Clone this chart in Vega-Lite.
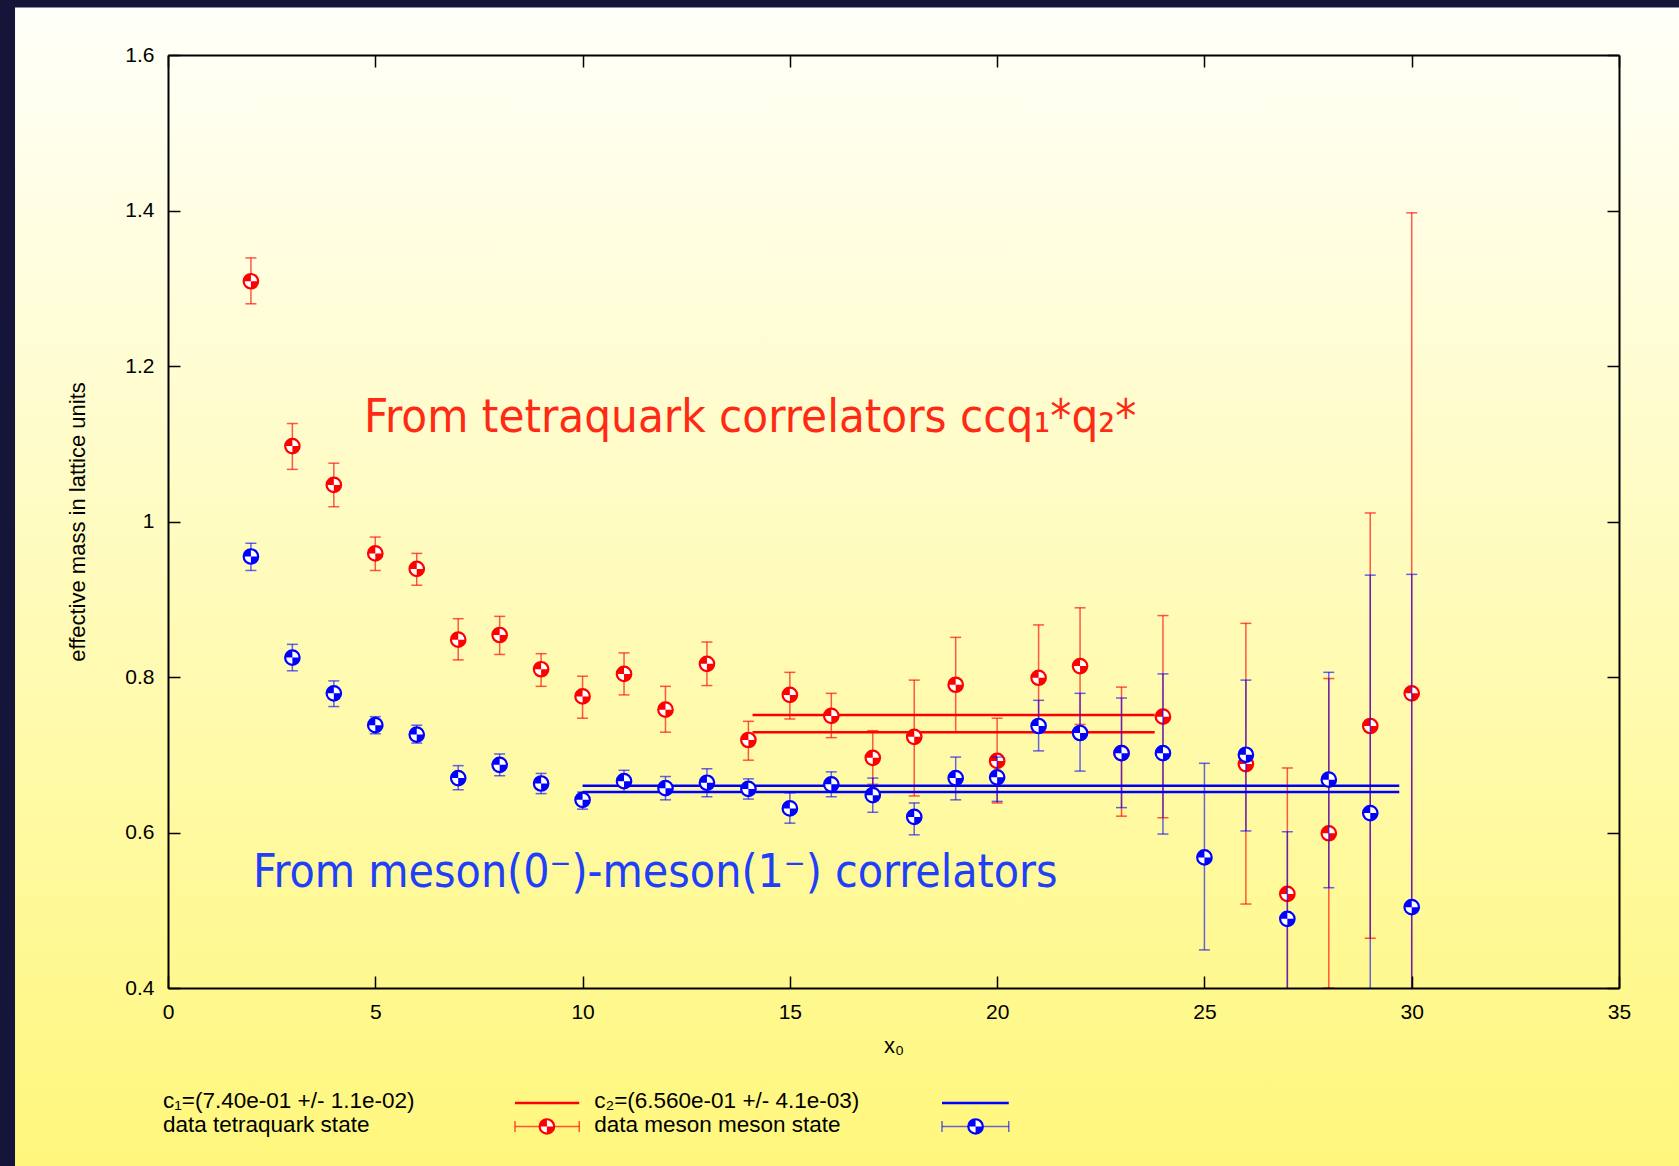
{
  "$schema": "https://vega.github.io/schema/vega-lite/v6.json",
  "width": 1451,
  "height": 933,
  "autosize": {"type": "none"},
  "padding": {"left": 168, "top": 55, "right": 60, "bottom": 178},
  "background": "#15153a",
  "config": {"view": {"stroke": null}, "font": "Liberation Sans"},
  "data": {"values": [{}]},
  "datasets": {
    "tetra": [
      {"x0": 2, "m": 1.309, "lo": 1.280, "hi": 1.339},
      {"x0": 3, "m": 1.097, "lo": 1.067, "hi": 1.126},
      {"x0": 4, "m": 1.047, "lo": 1.019, "hi": 1.075},
      {"x0": 5, "m": 0.959, "lo": 0.937, "hi": 0.980},
      {"x0": 6, "m": 0.939, "lo": 0.918, "hi": 0.959},
      {"x0": 7, "m": 0.848, "lo": 0.822, "hi": 0.875},
      {"x0": 8, "m": 0.854, "lo": 0.829, "hi": 0.878},
      {"x0": 9, "m": 0.810, "lo": 0.788, "hi": 0.830},
      {"x0": 10, "m": 0.775, "lo": 0.747, "hi": 0.801},
      {"x0": 11, "m": 0.804, "lo": 0.777, "hi": 0.831},
      {"x0": 12, "m": 0.758, "lo": 0.729, "hi": 0.788},
      {"x0": 13, "m": 0.817, "lo": 0.789, "hi": 0.845},
      {"x0": 14, "m": 0.719, "lo": 0.693, "hi": 0.743},
      {"x0": 15, "m": 0.777, "lo": 0.746, "hi": 0.806},
      {"x0": 16, "m": 0.750, "lo": 0.722, "hi": 0.779},
      {"x0": 17, "m": 0.696, "lo": 0.662, "hi": 0.731},
      {"x0": 18, "m": 0.723, "lo": 0.647, "hi": 0.796},
      {"x0": 19, "m": 0.790, "lo": 0.729, "hi": 0.851},
      {"x0": 20, "m": 0.692, "lo": 0.638, "hi": 0.747},
      {"x0": 21, "m": 0.799, "lo": 0.731, "hi": 0.867},
      {"x0": 22, "m": 0.814, "lo": 0.739, "hi": 0.889},
      {"x0": 23, "m": 0.702, "lo": 0.621, "hi": 0.787},
      {"x0": 24, "m": 0.749, "lo": 0.619, "hi": 0.879},
      {"x0": 26, "m": 0.688, "lo": 0.508, "hi": 0.869},
      {"x0": 27, "m": 0.521, "lo": 0.359, "hi": 0.683},
      {"x0": 28, "m": 0.599, "lo": 0.400, "hi": 0.798},
      {"x0": 29, "m": 0.737, "lo": 0.464, "hi": 1.011},
      {"x0": 30, "m": 0.779, "lo": 0.161, "hi": 1.397}
    ],
    "meson": [
      {"x0": 2, "m": 0.955, "lo": 0.937, "hi": 0.972},
      {"x0": 3, "m": 0.825, "lo": 0.808, "hi": 0.842},
      {"x0": 4, "m": 0.779, "lo": 0.762, "hi": 0.795},
      {"x0": 5, "m": 0.738, "lo": 0.727, "hi": 0.749},
      {"x0": 6, "m": 0.726, "lo": 0.715, "hi": 0.738},
      {"x0": 7, "m": 0.670, "lo": 0.655, "hi": 0.686},
      {"x0": 8, "m": 0.687, "lo": 0.673, "hi": 0.701},
      {"x0": 9, "m": 0.663, "lo": 0.650, "hi": 0.676},
      {"x0": 10, "m": 0.642, "lo": 0.630, "hi": 0.652},
      {"x0": 11, "m": 0.666, "lo": 0.652, "hi": 0.680},
      {"x0": 12, "m": 0.657, "lo": 0.642, "hi": 0.672},
      {"x0": 13, "m": 0.664, "lo": 0.646, "hi": 0.682},
      {"x0": 14, "m": 0.656, "lo": 0.643, "hi": 0.669},
      {"x0": 15, "m": 0.631, "lo": 0.612, "hi": 0.651},
      {"x0": 16, "m": 0.662, "lo": 0.646, "hi": 0.678},
      {"x0": 17, "m": 0.648, "lo": 0.626, "hi": 0.670},
      {"x0": 18, "m": 0.620, "lo": 0.597, "hi": 0.638},
      {"x0": 19, "m": 0.670, "lo": 0.642, "hi": 0.697},
      {"x0": 20, "m": 0.671, "lo": 0.640, "hi": 0.697},
      {"x0": 21, "m": 0.737, "lo": 0.705, "hi": 0.770},
      {"x0": 22, "m": 0.728, "lo": 0.679, "hi": 0.779},
      {"x0": 23, "m": 0.702, "lo": 0.632, "hi": 0.773},
      {"x0": 24, "m": 0.702, "lo": 0.598, "hi": 0.804},
      {"x0": 25, "m": 0.568, "lo": 0.449, "hi": 0.689},
      {"x0": 26, "m": 0.700, "lo": 0.602, "hi": 0.796},
      {"x0": 27, "m": 0.489, "lo": 0.377, "hi": 0.601},
      {"x0": 28, "m": 0.668, "lo": 0.529, "hi": 0.806},
      {"x0": 29, "m": 0.625, "lo": 0.319, "hi": 0.931},
      {"x0": 30, "m": 0.504, "lo": 0.076, "hi": 0.932}
    ],
    "fitT": [
      {"from": 14.1, "to": 23.8, "c": 0.751},
      {"from": 14.1, "to": 23.8, "c": 0.729}
    ],
    "fitM": [
      {"from": 10.0, "to": 29.7, "c": 0.660},
      {"from": 10.0, "to": 29.7, "c": 0.652}
    ]
  },
  "resolve": {"axis": {"x": "independent", "y": "independent"}},
  "layer": [
    {
      "mark": {"type": "rect", "clip": false, "strokeWidth": 0,
        "fill": {"gradient": "linear", "x1": 0, "y1": 0, "x2": 0, "y2": 1,
          "stops": [
            {"offset": 0, "color": "#fffffb"},
            {"offset": 0.035, "color": "#fffff4"},
            {"offset": 0.846, "color": "#fff77c"},
            {"offset": 1, "color": "#fff560"}
          ]}},
      "encoding": {
        "x": {"datum": -3.69, "type": "quantitative",
          "scale": {"domain": [0, 35], "nice": false, "zero": false},
          "axis": {"orient": "bottom", "values": [0, 5, 10, 15, 20, 25, 30, 35], "format": "d",
            "title": "x₀", "grid": false, "zindex": 1,
            "domainColor": "#000", "domainWidth": 2, "tickColor": "#000", "tickWidth": 1.5, "tickSize": -12,
            "labelFontSize": 21, "labelColor": "#000", "labelPadding": 25, "labelFlush": false, "labelFont": "Liberation Sans",
            "titleFontSize": 22, "titleFontWeight": "normal", "titleColor": "#000", "titlePadding": 13, "titleFont": "Liberation Sans"}},
        "x2": {"datum": 45},
        "y": {"datum": 1.661, "type": "quantitative",
          "scale": {"domain": [0.4, 1.6], "nice": false, "zero": false},
          "axis": {"orient": "left", "values": [0.4, 0.6, 0.8, 1, 1.2, 1.4, 1.6], "format": "~g",
            "title": "effective mass in lattice units", "grid": false, "zindex": 1,
            "domainColor": "#000", "domainWidth": 2, "tickColor": "#000", "tickWidth": 1.5, "tickSize": -12,
            "labelFontSize": 21, "labelColor": "#000", "labelPadding": 26, "labelFont": "Liberation Sans",
            "titleFontSize": 22, "titleFontWeight": "normal", "titleColor": "#000", "titlePadding": 35, "titleFont": "Liberation Sans"}},
        "y2": {"datum": -0.1}
      }
    },
    {
      "data": {"name": "fitT"},
      "mark": {"type": "rule", "color": "#ff0000", "strokeWidth": 2.5, "clip": true},
      "encoding": {
        "x": {"field": "from", "type": "quantitative",
          "axis": {"orient": "top", "values": [0, 5, 10, 15, 20, 25, 30, 35], "labels": false, "title": null, "grid": false, "zindex": 1,
            "domainColor": "#000", "domainWidth": 2, "tickColor": "#000", "tickWidth": 1.5, "tickSize": -12}},
        "x2": {"field": "to"},
        "y": {"field": "c", "type": "quantitative",
          "axis": {"orient": "right", "values": [0.4, 0.6, 0.8, 1, 1.2, 1.4, 1.6], "labels": false, "title": null, "grid": false, "zindex": 1,
            "domainColor": "#000", "domainWidth": 2, "tickColor": "#000", "tickWidth": 1.5, "tickSize": -12}}
      }
    },
    {
      "data": {"name": "tetra"},
      "mark": {"type": "rule", "color": "#ff0000", "opacity": 0.65, "strokeWidth": 1.5, "clip": true},
      "encoding": {
        "x": {"field": "x0", "type": "quantitative", "axis": null},
        "y": {"field": "lo", "type": "quantitative", "axis": null},
        "y2": {"field": "hi"}
      }
    },
    {
      "data": {"name": "tetra"},
      "mark": {"type": "point", "shape": "M-1,0L1,0", "size": 121, "filled": false, "color": "#ff0000", "opacity": 0.65, "strokeWidth": 1.5, "clip": true},
      "encoding": {
        "x": {"field": "x0", "type": "quantitative", "axis": null},
        "y": {"field": "hi", "type": "quantitative", "axis": null}
      }
    },
    {
      "data": {"name": "tetra"},
      "mark": {"type": "point", "shape": "M-1,0L1,0", "size": 121, "filled": false, "color": "#ff0000", "opacity": 0.65, "strokeWidth": 1.5, "clip": true},
      "encoding": {
        "x": {"field": "x0", "type": "quantitative", "axis": null},
        "y": {"field": "lo", "type": "quantitative", "axis": null}
      }
    },
    {
      "data": {"name": "tetra"},
      "mark": {"type": "point", "shape": "circle", "size": 210, "filled": true, "fill": "#ffffff", "stroke": "#ff0000", "strokeWidth": 2.2, "opacity": 1, "clip": true},
      "encoding": {
        "x": {"field": "x0", "type": "quantitative", "axis": null},
        "y": {"field": "m", "type": "quantitative", "axis": null}
      }
    },
    {
      "data": {"name": "tetra"},
      "mark": {"type": "point", "shape": "M0,0L-1,0A1,1,0,0,1,0,-1ZM0,0L1,0A1,1,0,0,1,0,1Z", "size": 210, "filled": true, "fill": "#ff0000", "strokeWidth": 0, "opacity": 1, "clip": true},
      "encoding": {
        "x": {"field": "x0", "type": "quantitative", "axis": null},
        "y": {"field": "m", "type": "quantitative", "axis": null}
      }
    },
    {
      "data": {"name": "fitM"},
      "mark": {"type": "rule", "color": "#0000ff", "strokeWidth": 2.5, "clip": true},
      "encoding": {
        "x": {"field": "from", "type": "quantitative", "axis": null},
        "x2": {"field": "to"},
        "y": {"field": "c", "type": "quantitative", "axis": null}
      }
    },
    {
      "data": {"name": "meson"},
      "mark": {"type": "rule", "color": "#0000ff", "opacity": 0.6, "strokeWidth": 1.5, "clip": true},
      "encoding": {
        "x": {"field": "x0", "type": "quantitative", "axis": null},
        "y": {"field": "lo", "type": "quantitative", "axis": null},
        "y2": {"field": "hi"}
      }
    },
    {
      "data": {"name": "meson"},
      "mark": {"type": "point", "shape": "M-1,0L1,0", "size": 121, "filled": false, "color": "#0000ff", "opacity": 0.6, "strokeWidth": 1.5, "clip": true},
      "encoding": {
        "x": {"field": "x0", "type": "quantitative", "axis": null},
        "y": {"field": "hi", "type": "quantitative", "axis": null}
      }
    },
    {
      "data": {"name": "meson"},
      "mark": {"type": "point", "shape": "M-1,0L1,0", "size": 121, "filled": false, "color": "#0000ff", "opacity": 0.6, "strokeWidth": 1.5, "clip": true},
      "encoding": {
        "x": {"field": "x0", "type": "quantitative", "axis": null},
        "y": {"field": "lo", "type": "quantitative", "axis": null}
      }
    },
    {
      "data": {"name": "meson"},
      "mark": {"type": "point", "shape": "circle", "size": 210, "filled": true, "fill": "#ffffff", "stroke": "#0000ff", "strokeWidth": 2.2, "opacity": 1, "clip": true},
      "encoding": {
        "x": {"field": "x0", "type": "quantitative", "axis": null},
        "y": {"field": "m", "type": "quantitative", "axis": null}
      }
    },
    {
      "data": {"name": "meson"},
      "mark": {"type": "point", "shape": "M0,0L-1,0A1,1,0,0,1,0,-1ZM0,0L1,0A1,1,0,0,1,0,1Z", "size": 210, "filled": true, "fill": "#0000ff", "strokeWidth": 0, "opacity": 1, "clip": true},
      "encoding": {
        "x": {"field": "x0", "type": "quantitative", "axis": null},
        "y": {"field": "m", "type": "quantitative", "axis": null}
      }
    },
    {
      "mark": {"type": "text", "text": "From tetraquark correlators ccq₁*q₂*", "align": "left", "baseline": "middle",
        "font": "DejaVu Sans Condensed, sans-serif", "fontSize": 47, "color": "#ff2a14"},
      "encoding": {
        "x": {"datum": 4.73, "type": "quantitative", "axis": null},
        "y": {"datum": 1.133, "type": "quantitative", "axis": null}
      }
    },
    {
      "mark": {"type": "text", "text": "From meson(0⁻)-meson(1⁻) correlators", "align": "left", "baseline": "middle",
        "font": "DejaVu Sans Condensed, sans-serif", "fontSize": 46, "color": "#2040f8"},
      "encoding": {
        "x": {"datum": 2.05, "type": "quantitative", "axis": null},
        "y": {"datum": 0.548, "type": "quantitative", "axis": null}
      }
    },
    {
      "mark": {"type": "text", "text": "c₁=(7.40e-01 +/- 1.1e-02)", "align": "left", "baseline": "middle", "fontSize": 22.5, "color": "#000"},
      "encoding": {
        "x": {"datum": -0.12, "type": "quantitative", "axis": null},
        "y": {"datum": 0.2547, "type": "quantitative", "axis": null}
      }
    },
    {
      "mark": {"type": "text", "text": "data tetraquark state", "align": "left", "baseline": "middle", "fontSize": 22.5, "color": "#000"},
      "encoding": {
        "x": {"datum": -0.12, "type": "quantitative", "axis": null},
        "y": {"datum": 0.2238, "type": "quantitative", "axis": null}
      }
    },
    {
      "mark": {"type": "text", "text": "c₂=(6.560e-01 +/- 4.1e-03)", "align": "left", "baseline": "middle", "fontSize": 22.5, "color": "#000"},
      "encoding": {
        "x": {"datum": 10.28, "type": "quantitative", "axis": null},
        "y": {"datum": 0.2547, "type": "quantitative", "axis": null}
      }
    },
    {
      "mark": {"type": "text", "text": "data meson meson state", "align": "left", "baseline": "middle", "fontSize": 22.5, "color": "#000"},
      "encoding": {
        "x": {"datum": 10.28, "type": "quantitative", "axis": null},
        "y": {"datum": 0.2238, "type": "quantitative", "axis": null}
      }
    },
    {
      "mark": {"type": "rule", "color": "#ff0000", "strokeWidth": 2.5},
      "encoding": {
        "x": {"datum": 8.37, "type": "quantitative", "axis": null},
        "x2": {"datum": 9.92},
        "y": {"datum": 0.2521, "type": "quantitative", "axis": null}
      }
    },
    {
      "mark": {"type": "rule", "color": "#ff0000", "strokeWidth": 1.5, "opacity": 0.65},
      "encoding": {
        "x": {"datum": 8.37, "type": "quantitative", "axis": null},
        "x2": {"datum": 9.92},
        "y": {"datum": 0.2219, "type": "quantitative", "axis": null}
      }
    },
    {
      "mark": {"type": "point", "shape": "M0,-1L0,1", "size": 121, "filled": false, "color": "#ff0000", "opacity": 0.65, "strokeWidth": 1.5},
      "encoding": {
        "x": {"datum": 8.37, "type": "quantitative", "axis": null},
        "y": {"datum": 0.2219, "type": "quantitative", "axis": null}
      }
    },
    {
      "mark": {"type": "point", "shape": "M0,-1L0,1", "size": 121, "filled": false, "color": "#ff0000", "opacity": 0.65, "strokeWidth": 1.5},
      "encoding": {
        "x": {"datum": 9.92, "type": "quantitative", "axis": null},
        "y": {"datum": 0.2219, "type": "quantitative", "axis": null}
      }
    },
    {
      "mark": {"type": "point", "shape": "circle", "size": 210, "filled": true, "fill": "#ffffff", "stroke": "#ff0000", "strokeWidth": 2.2, "opacity": 1},
      "encoding": {
        "x": {"datum": 9.14, "type": "quantitative", "axis": null},
        "y": {"datum": 0.2219, "type": "quantitative", "axis": null}
      }
    },
    {
      "mark": {"type": "point", "shape": "M0,0L-1,0A1,1,0,0,1,0,-1ZM0,0L1,0A1,1,0,0,1,0,1Z", "size": 210, "filled": true, "fill": "#ff0000", "strokeWidth": 0, "opacity": 1},
      "encoding": {
        "x": {"datum": 9.14, "type": "quantitative", "axis": null},
        "y": {"datum": 0.2219, "type": "quantitative", "axis": null}
      }
    },
    {
      "mark": {"type": "rule", "color": "#0000ff", "strokeWidth": 2.5},
      "encoding": {
        "x": {"datum": 18.67, "type": "quantitative", "axis": null},
        "x2": {"datum": 20.28},
        "y": {"datum": 0.2521, "type": "quantitative", "axis": null}
      }
    },
    {
      "mark": {"type": "rule", "color": "#0000ff", "strokeWidth": 1.5, "opacity": 0.6},
      "encoding": {
        "x": {"datum": 18.67, "type": "quantitative", "axis": null},
        "x2": {"datum": 20.28},
        "y": {"datum": 0.2219, "type": "quantitative", "axis": null}
      }
    },
    {
      "mark": {"type": "point", "shape": "M0,-1L0,1", "size": 121, "filled": false, "color": "#0000ff", "opacity": 0.6, "strokeWidth": 1.5},
      "encoding": {
        "x": {"datum": 18.67, "type": "quantitative", "axis": null},
        "y": {"datum": 0.2219, "type": "quantitative", "axis": null}
      }
    },
    {
      "mark": {"type": "point", "shape": "M0,-1L0,1", "size": 121, "filled": false, "color": "#0000ff", "opacity": 0.6, "strokeWidth": 1.5},
      "encoding": {
        "x": {"datum": 20.28, "type": "quantitative", "axis": null},
        "y": {"datum": 0.2219, "type": "quantitative", "axis": null}
      }
    },
    {
      "mark": {"type": "point", "shape": "circle", "size": 210, "filled": true, "fill": "#ffffff", "stroke": "#0000ff", "strokeWidth": 2.2, "opacity": 1},
      "encoding": {
        "x": {"datum": 19.48, "type": "quantitative", "axis": null},
        "y": {"datum": 0.2219, "type": "quantitative", "axis": null}
      }
    },
    {
      "mark": {"type": "point", "shape": "M0,0L-1,0A1,1,0,0,1,0,-1ZM0,0L1,0A1,1,0,0,1,0,1Z", "size": 210, "filled": true, "fill": "#0000ff", "strokeWidth": 0, "opacity": 1},
      "encoding": {
        "x": {"datum": 19.48, "type": "quantitative", "axis": null},
        "y": {"datum": 0.2219, "type": "quantitative", "axis": null}
      }
    }
  ]
}
